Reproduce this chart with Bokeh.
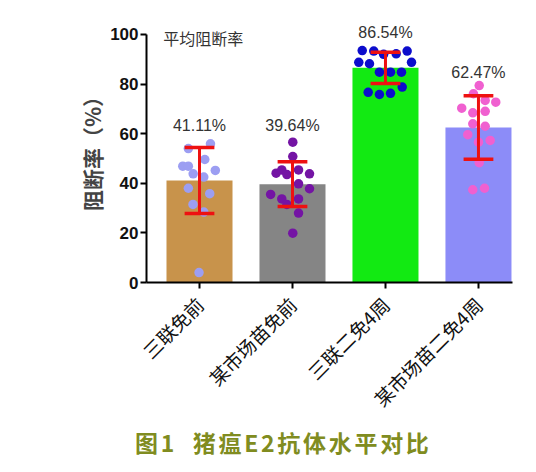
import math
from bokeh.plotting import figure
from bokeh.models import FixedTicker, Label, ColumnDataSource, Range1d, Div
from bokeh.layouts import column
from bokeh.embed import file_html
from bokeh.resources import INLINE

# ---------------- data ----------------
categories = ["三联免前", "某市场苗免前", "三联二免4周", "某市场苗二免4周"]
means = [41.11, 39.64, 86.54, 62.47]
sds = [13.3, 9.0, 6.3, 12.8]
mean_labels = ["41.11%", "39.64%", "86.54%", "62.47%"]

g1_vals = [55.9, 54.0, 46.9, 46.9, 49.6, 45.2, 43.8, 42.5, 38.0, 35.8, 31.5, 28.4, 4.0]
g1_jit = [0.118, -0.12, -0.18, -0.12, 0.057, 0.17, -0.068, 0.046, -0.12, 0.11, -0.07, 0.046, -0.005]
g2_vals = [56.6, 50.8, 44.1, 45.4, 43.5, 45.4, 43.8, 39.8, 37.8, 35.5, 33.7, 31.5, 33.7, 28.0, 19.9]
g2_jit = [0.003, 0.003, -0.176, -0.115, -0.06, 0.065, 0.183, 0.065, 0.183, -0.235, -0.115, -0.06, 0.065, 0.065, 0.003]
g3_vals = [93.5, 93.3, 92.2, 93.3, 88.8, 88.2, 88.8, 84.8, 84.8, 84.8, 76.7, 75.8, 76.3, 78.8, 92.0]
g3_jit = [-0.25, -0.126, 0.115, 0.233, -0.287, -0.172, 0.28, -0.065, 0.054, 0.172, -0.186, -0.065, 0.054, 0.18, -0.02]
g4_vals = [79.4, 76.1, 73.4, 72.7, 70.3, 68.4, 69.0, 64.0, 63.0, 59.6, 57.3, 56.6, 48.3, 37.4, 38.0]
g4_jit = [0.008, -0.054, 0.072, 0.186, -0.18, -0.061, 0.072, -0.061, 0.072, -0.115, 0.126, 0.0, 0.008, -0.061, 0.065]

y_ticks = [0, 20, 40, 60, 80, 100]
title_text = "图1  猪瘟E2抗体水平对比"
note_text = "平均阻断率"
y_label = "阻断率（%）"

# ---------------- styles / layout ----------------
bar_colors = ["#c8934b", "#858585", "#12ea12", "#8c8cf8"]
dot_colors = ["#9c9ef2", "#7414a4", "#0c0ccc", "#f060d0"]
label_y = [63.3, 63.3, 100.8, 84.7]

xs = list(range(len(categories)))

p = figure(width=520, height=430, output_backend="svg", toolbar_location=None,
           x_range=Range1d(-0.57, 3.366), y_range=Range1d(0, 108.06),
           min_border_left=146, min_border_right=8, min_border_top=14,
           min_border_bottom=148)
p.outline_line_color = None
p.grid.visible = False
p.background_fill_color = "white"

p.vbar(x=xs, top=means, width=0.71, bottom=0, fill_color=bar_colors, line_color=None)

groups = [(g1_vals, g1_jit), (g2_vals, g2_jit), (g3_vals, g3_jit), (g4_vals, g4_jit)]
for i, (vals, jit) in enumerate(groups):
    p.scatter(x=[i + j for j in jit], y=vals, size=9.5, fill_color=dot_colors[i],
              line_color=None)

lo = [m - s for m, s in zip(means, sds)]
hi = [m + s for m, s in zip(means, sds)]
p.segment(x0=xs, y0=lo, x1=xs, y1=hi, line_color="#ee1111", line_width=3)
cap = 0.16
p.segment(x0=[x - cap for x in xs], y0=hi, x1=[x + cap for x in xs], y1=hi,
          line_color="#ee1111", line_width=3.5)
p.segment(x0=[x - cap for x in xs], y0=lo, x1=[x + cap for x in xs], y1=lo,
          line_color="#ee1111", line_width=3.5)

src = ColumnDataSource(dict(x=xs, y=label_y, t=mean_labels))
p.text(x="x", y="y", text="t", source=src, text_align="center", text_baseline="middle",
       text_font_size="16px", text_color="#333333", text_font={"value": "Liberation Sans"})

p.add_layout(Label(x=-0.39, y=98.4, text=note_text, text_baseline="middle",
                   text_font_size="16px", text_color="#333333",
                   text_font="Noto Sans CJK SC"))

# axes
ya = p.yaxis[0]
ya.ticker = FixedTicker(ticks=y_ticks)
ya.bounds = (0, 100)
ya.minor_tick_line_color = None
ya.axis_line_width = 2
ya.major_tick_line_width = 2
ya.major_tick_out = 6
ya.major_tick_in = 0
ya.major_label_text_font = "Liberation Sans"
ya.major_label_text_font_style = "bold"
ya.major_label_text_font_size = "17px"
ya.major_label_text_color = "#111111"
ya.major_label_standoff = 2
ya.axis_label = y_label
ya.axis_label_text_font = "Noto Sans CJK SC"
ya.axis_label_text_font_style = "bold"
ya.axis_label_text_font_size = "21px"
ya.axis_label_standoff = 0

xa = p.xaxis[0]
xa.ticker = FixedTicker(ticks=xs)
xa.major_label_overrides = {i: c for i, c in enumerate(categories)}
xa.minor_tick_line_color = None
xa.axis_line_width = 2
xa.major_tick_line_width = 2
xa.major_tick_out = 6
xa.major_tick_in = 0
xa.major_label_orientation = math.pi / 4
xa.major_label_text_font = "Noto Sans CJK SC"
xa.major_label_text_font_size = "19px"
xa.major_label_text_color = "#111111"
xa.major_label_standoff = 12

title_div = Div(text=title_text, width=520, height=42, margin=(0, 0, 0, 0),
                styles={"font-family": "Noto Sans CJK SC", "font-size": "23px",
                        "font-weight": "bold", "color": "#808c20",
                        "line-height": "24px", "padding-left": "135px",
                        "letter-spacing": "2.7px", "white-space": "pre"})

layout = column(p, title_div, spacing=0)
open("out.html", "w").write(file_html(layout, INLINE))
